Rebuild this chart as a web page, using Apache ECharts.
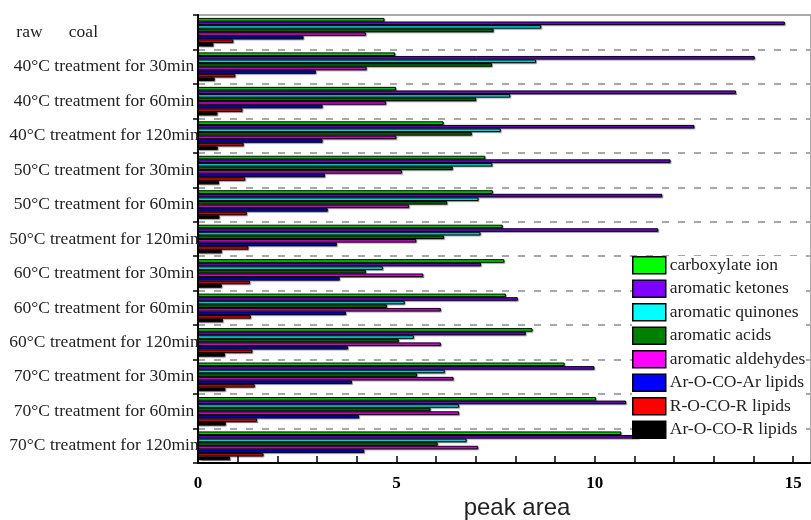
<!DOCTYPE html>
<html>
<head>
<meta charset="utf-8">
<script src="https://cdn.jsdelivr.net/npm/echarts@6/dist/echarts.min.js"></script>
<style>
  html, body { margin: 0; padding: 0; background: #fff; }
  #chart { width: 811px; height: 520px; }
</style>
</head>
<body>
<div id="chart"></div>
<script>
// Sample groups, top to bottom
const categories = [
  'raw      coal',
  '40°C treatment for 30min',
  '40°C treatment for 60min',
  '40°C treatment for 120min',
  '50°C treatment for 30min',
  '50°C treatment for 60min',
  '50°C treatment for 120min',
  '60°C treatment for 30min',
  '60°C treatment for 60min',
  '60°C treatment for 120min',
  '70°C treatment for 30min',
  '70°C treatment for 60min',
  '70°C treatment for 120min'
];

const seriesNames = [
  'carboxylate ion',
  'aromatic ketones',
  'aromatic quinones',
  'aromatic acids',
  'aromatic aldehydes',
  'Ar-O-CO-Ar lipids',
  'R-O-CO-R lipids',
  'Ar-O-CO-R lipids'
];

const seriesColors = ['#00ff00', '#8000ff', '#00ffff', '#008000', '#ff00ff', '#0000ff', '#ff0000', '#000000'];

// Peak areas per functional group, one value per sample group
const carboxylateIon    = [4.70, 4.97, 4.99, 6.19, 7.24, 7.43, 7.68, 7.72, 7.76, 8.43, 9.24, 10.03, 10.67];
const aromaticKetones   = [14.79, 14.03, 13.56, 12.51, 11.91, 11.70, 11.60, 7.13, 8.06, 8.26, 9.99, 10.79, 11.11];
const aromaticQuinones  = [8.65, 8.52, 7.87, 7.63, 7.42, 7.07, 7.12, 4.66, 5.21, 5.44, 6.22, 6.58, 6.77];
const aromaticAcids     = [7.45, 7.41, 7.01, 6.90, 6.42, 6.28, 6.20, 4.23, 4.76, 5.06, 5.52, 5.86, 6.04];
const aromaticAldehydes = [4.23, 4.25, 4.74, 5.00, 5.14, 5.32, 5.50, 5.68, 6.12, 6.12, 6.44, 6.58, 7.06];
const arOCOArLipids     = [2.66, 2.97, 3.14, 3.14, 3.20, 3.27, 3.50, 3.57, 3.73, 3.78, 3.88, 4.06, 4.19];
const rOCORLipids       = [0.89, 0.94, 1.12, 1.15, 1.19, 1.23, 1.27, 1.31, 1.33, 1.37, 1.43, 1.49, 1.65];
const arOCORLipids      = [0.39, 0.42, 0.49, 0.50, 0.53, 0.54, 0.60, 0.60, 0.63, 0.68, 0.69, 0.70, 0.81];

const seriesValues = [
  carboxylateIon, aromaticKetones, aromaticQuinones, aromaticAcids,
  aromaticAldehydes, arOCOArLipids, rOCORLipids, arOCORLipids
];

// Labelled ticks on the peak-area axis; every unit gets a tick mark
const xTickValues = [0, 5, 10, 15];
const xAxisMax = 15.45;

const serif = '"Liberation Serif", "Times New Roman", serif';

const chart = echarts.init(document.getElementById('chart'), null, { renderer: 'canvas' });

const series = seriesNames.map((name, i) => ({
  name: name,
  type: 'bar',
  data: seriesValues[i],
  barGap: '0%',
  barCategoryGap: '17%',
  itemStyle: {
    color: seriesColors[i],
    borderColor: '#000',
    borderWidth: 1,
    shadowColor: 'rgba(0,0,0,0.35)',
    shadowOffsetX: 1,
    shadowOffsetY: 1,
    shadowBlur: 1
  },
  emphasis: { disabled: true },
  animation: false
}));

// Group labels are centred in the left margin; the first one hugs the left side
const yAxisData = categories.map((c, i) => (
  i === 0 ? { value: c, textStyle: { align: 'right', padding: [0, 6, 0, 0] } } : c
));

chart.setOption({
  backgroundColor: '#fff',
  animation: false,
  grid: {
    left: 198,
    top: 15,
    bottom: 57,
    right: 0,
    show: true,
    borderColor: '#555',
    borderWidth: 1,
    backgroundColor: 'transparent'
  },
  xAxis: {
    type: 'value',
    min: 0,
    max: xAxisMax,
    interval: 1,
    axisLine: { show: true, lineStyle: { color: '#000', width: 2 } },
    axisTick: { show: true, inside: true, length: 7, lineStyle: { color: '#000', width: 1.5 } },
    splitLine: { show: false },
    axisLabel: {
      margin: 12,
      fontFamily: serif,
      fontSize: 17,
      fontWeight: 'bold',
      color: '#000',
      showMaxLabel: false,
      formatter: v => (xTickValues.indexOf(v) >= 0 ? String(v) : '')
    }
  },
  yAxis: {
    type: 'category',
    data: yAxisData,
    inverse: true,
    axisLine: { show: true, lineStyle: { color: '#000', width: 2 } },
    axisTick: { show: true, inside: false, length: 5, lineStyle: { color: '#000', width: 1.5 } },
    splitLine: { show: true, lineStyle: { color: '#a8a8a8', width: 2, type: [7, 9] } },
    axisLabel: {
      align: 'center',
      margin: 94,
      fontFamily: serif,
      fontSize: 17.5,
      color: '#222'
    }
  },
  legend: {
    data: seriesNames,
    orient: 'vertical',
    left: 632,
    top: 256,
    itemWidth: 33,
    itemHeight: 17,
    itemGap: 5,
    icon: 'rect',
    padding: 0,
    backgroundColor: '#fff',
    itemStyle: { borderColor: '#000', borderWidth: 1.5, shadowBlur: 0, shadowOffsetX: 0, shadowOffsetY: 0 },
    textStyle: { fontFamily: serif, fontSize: 17.5, color: '#222', padding: [0, 0, 0, -1] },
    selectedMode: false
  },
  graphic: [
    {
      type: 'text',
      x: 517,
      y: 496,
      style: {
        text: 'peak area',
        fontFamily: '"Liberation Sans", Arial, sans-serif',
        fontSize: 24,
        fill: '#222',
        align: 'center'
      }
    }
  ],
  series: series
});
</script>
</body>
</html>
